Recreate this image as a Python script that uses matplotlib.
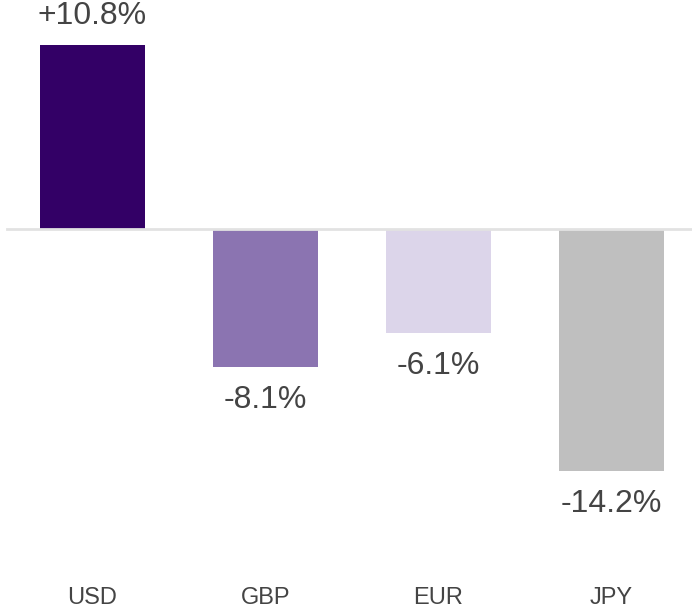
import matplotlib
matplotlib.use("Agg")
import matplotlib.pyplot as plt

# Currency performance data
currencies = ["USD", "GBP", "EUR", "JPY"]
changes = [10.8, -8.1, -6.1, -14.2]
labels = ["+10.8%", "-8.1%", "-6.1%", "-14.2%"]
colors = ["#330066", "#8b74b1", "#dcd5ea", "#bfbfbf"]

plt.rcParams['font.family'] = ['Liberation Sans', 'DejaVu Sans']
text_color = "#444444"

fig = plt.figure(figsize=(6.92, 6.13), dpi=100)
ax = fig.add_axes([0, 0, 1, 1])

x = range(len(currencies))
ax.bar(x, changes, width=0.605, color=colors, zorder=2)
ax.axhline(0, xmin=0.01, color="#e2e2e2", lw=2, zorder=3)

# value labels above / below bars
for i, v in enumerate(changes):
    if v >= 0:
        ax.annotate(labels[i], (i, v), xytext=(0, 10), textcoords="offset points",
                    ha="center", va="bottom", fontsize=23, color=text_color)
    else:
        ax.annotate(labels[i], (i, v), xytext=(0, -13), textcoords="offset points",
                    ha="center", va="top", fontsize=23, color=text_color)

# category labels at the bottom
for i, c in enumerate(currencies):
    ax.text(i, -21.65, c, ha="center", va="center", fontsize=17, color=text_color)

ax.set_xlim(-0.535, 3.465)
ax.set_ylim(-22.53, 13.44)
ax.axis("off")

fig.savefig("out.png", dpi=100)
